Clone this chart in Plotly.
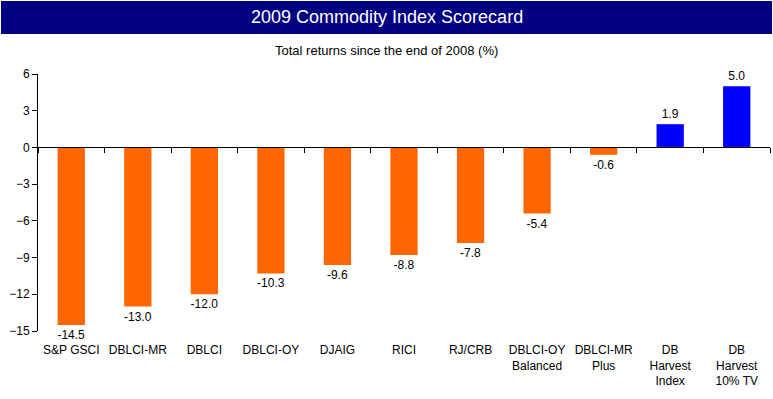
import plotly.graph_objects as go

categories = ["S&P GSCI", "DBLCI-MR", "DBLCI", "DBLCI-OY", "DJAIG", "RICI", "RJ/CRB",
              "DBLCI-OY<br>Balanced", "DBLCI-MR<br>Plus", "DB<br>Harvest<br>Index",
              "DB<br>Harvest<br>10% TV"]
values = [-14.5, -13.0, -12.0, -10.3, -9.6, -8.8, -7.8, -5.4, -0.6, 1.9, 5.0]
y_ticks = [6, 3, 0, -3, -6, -9, -12, -15]
title_text = "2009 Commodity Index Scorecard"
subtitle_text = "Total returns since the end of 2008 (%)"

colors = ["#FF6600" if v < 0 else "#0000FF" for v in values]
FONT = "Liberation Sans, Arial, sans-serif"

fig = go.Figure()
fig.add_trace(go.Bar(
    x=categories, y=values, marker=dict(color=colors, line=dict(width=0)),
    texttemplate="%{y:.1f}", textposition="outside", cliponaxis=False,
    constraintext="none", textfont=dict(size=12, color="#000000", family=FONT),
    showlegend=False, hoverinfo="skip"))
# invisible trace to draw the zero-line axis with boundary ticks
fig.add_trace(go.Bar(x=categories, y=[0]*len(categories), xaxis="x2",
                     marker=dict(color="rgba(0,0,0,0)"), showlegend=False,
                     hoverinfo="skip"))

ymin, ymax = -15, 6
L, R, T, B, W, H = 38, 3, 74, 68, 773, 399
pw, ph = W - L - R, H - T - B

def px(x):
    return (x - L) / pw

def py(y):
    return (H - B - y) / ph

fig.update_layout(
    width=W, height=H,
    margin=dict(l=L, r=R, t=T, b=B),
    paper_bgcolor="white", plot_bgcolor="white",
    font=dict(family=FONT, size=12, color="#000000"),
    bargap=0.59,
    xaxis=dict(categoryorder="array", categoryarray=categories, range=[-0.5, 10.5],
               showline=False, ticks="", showgrid=False, zeroline=False,
               tickfont=dict(size=12, family=FONT), ticklabelstandoff=10,
               automargin=False),
    xaxis2=dict(overlaying="x", anchor="free", position=(0 - ymin) / (ymax - ymin),
                categoryorder="array", categoryarray=categories, range=[-0.5, 10.5],
                showline=True, linecolor="#000000", linewidth=1,
                ticks="outside", ticklen=5, tickcolor="#000000", tickson="boundaries",
                showticklabels=False, showgrid=False, zeroline=False, side="bottom"),
    yaxis=dict(range=[ymin, ymax], tickvals=y_ticks, showline=True, linecolor="#000000",
               linewidth=1, ticks="outside", ticklen=5, tickcolor="#000000",
               showgrid=False, zeroline=False, tickfont=dict(size=12, family=FONT),
               automargin=False),
    shapes=[dict(type="rect", xref="paper", yref="paper",
                 x0=px(1), x1=px(772), y0=py(34), y1=py(1),
                 fillcolor="#000080", line=dict(width=0), layer="above")],
    annotations=[
        dict(text=title_text, xref="paper", yref="paper", x=px(386.5),
             y=py(17.5), showarrow=False, xanchor="center", yanchor="middle",
             font=dict(size=18, color="white", family=FONT)),
        dict(text=subtitle_text, xref="paper", yref="paper", x=px(386.5),
             y=py(50), showarrow=False, xanchor="center", yanchor="middle",
             font=dict(size=13, color="black", family=FONT)),
    ],
)

fig.write_html("out.html", config={"displayModeBar": False},
               post_script="document.body.style.margin='0px';")
